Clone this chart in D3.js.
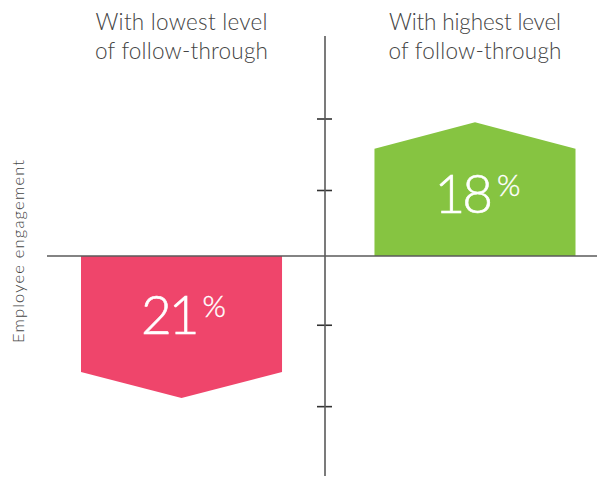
<!DOCTYPE html>
<html><head><meta charset="utf-8">
<script src="https://cdn.jsdelivr.net/npm/d3@7/dist/d3.min.js"></script>
<style>body{margin:0;background:#fff}svg{display:block}</style>
</head><body>
<svg id="c" width="597" height="477"></svg>
<script>
const categories = ["lowest", "highest"];
const titleLine1 = ["With lowest level", "With highest level"];
const titleLine2 = ["of follow-through", "of follow-through"];
const percentLabels = [21, 18];
const engagementValues = [-21.1, 19.5];   // bar body extent (engagement index)
const arrowDepth = [4.7, 4.8];            // chevron extension
const tickValues = [25, 12, -12.5, -27.3];
const yAxisLabel = "Employee engagement";
const colors = ["#EF456B", "#86C441"];

const svg = d3.select("#c");
const x = d3.scaleBand().domain(categories).range([81, 575.5]).paddingInner(0.315).paddingOuter(0);
const y = d3.scaleLinear().domain([-40, 40]).range([476, 36]);
const axisX = 325;
const ink = "#444";
const lineCol = "#5a5a5a";

categories.forEach((c, i) => {
  const x0 = x(c), x1 = x(c) + x.bandwidth(), cx = x0 + x.bandwidth() / 2;
  const v = engagementValues[i];
  const tip = v + Math.sign(v) * arrowDepth[i];
  const pts = [[x0, y(0)], [x0, y(v)], [cx, y(tip)], [x1, y(v)], [x1, y(0)]];
  svg.append("path").attr("d", d3.line()(pts) + "Z").attr("fill", colors[i]);
  const base = v > 0 ? y(v) + 64 : y(0) + 78;
  svg.append("text").attr("x", cx + 15).attr("y", base).attr("text-anchor", "end")
    .attr("font-family", "Lato").attr("font-weight", 300).attr("font-size", 53)
    .attr("letter-spacing", -3)
    .attr("stroke", "#fff").attr("stroke-width", 0.6)
    .attr("fill", "#fff").text(percentLabels[i]);
  svg.append("text").attr("x", cx + (v > 0 ? 22 : 21)).attr("y", base - 17).attr("text-anchor", "start")
    .attr("font-family", "Lato").attr("font-weight", 300).attr("font-size", 30)
    .attr("stroke", "#fff").attr("stroke-width", 0.4)
    .attr("fill", "#fff").text("%");
  svg.append("text").attr("x", cx).attr("y", 30).attr("text-anchor", "middle")
    .attr("font-family", "Lato").attr("font-weight", 300).attr("font-size", 22.5)
    .attr("textLength", 172).attr("lengthAdjust", "spacing")
    .attr("fill", ink).text(titleLine1[i]);
  svg.append("text").attr("x", cx).attr("y", 59).attr("text-anchor", "middle")
    .attr("font-family", "Lato").attr("font-weight", 300).attr("font-size", 22.5)
    .attr("textLength", 173).attr("lengthAdjust", "spacing")
    .attr("fill", ink).text(titleLine2[i]);
});

svg.append("line").attr("x1", 47).attr("x2", 597).attr("y1", y(0)).attr("y2", y(0))
  .attr("stroke", lineCol).attr("stroke-width", 1.6);

const axis = d3.axisLeft(y).tickValues(tickValues).tickSize(0).tickFormat("");
const g = svg.append("g").attr("transform", `translate(${axisX},0)`).call(axis);
g.select(".domain").remove();
g.append("line").attr("y1", y(40)).attr("y2", y(-40)).attr("stroke", lineCol).attr("stroke-width", 1.6);
g.selectAll(".tick").append("line").attr("x1", -8).attr("x2", 7)
  .attr("stroke", "#333").attr("stroke-width", 1.6);

svg.append("text").attr("transform", `translate(24,${251.5}) rotate(-90)`)
  .attr("text-anchor", "middle").attr("font-family", "Lato").attr("font-weight", 300)
  .attr("font-size", 16.5).attr("textLength", 183).attr("lengthAdjust", "spacing")
  .attr("fill", ink).text(yAxisLabel);
</script>
</body></html>
